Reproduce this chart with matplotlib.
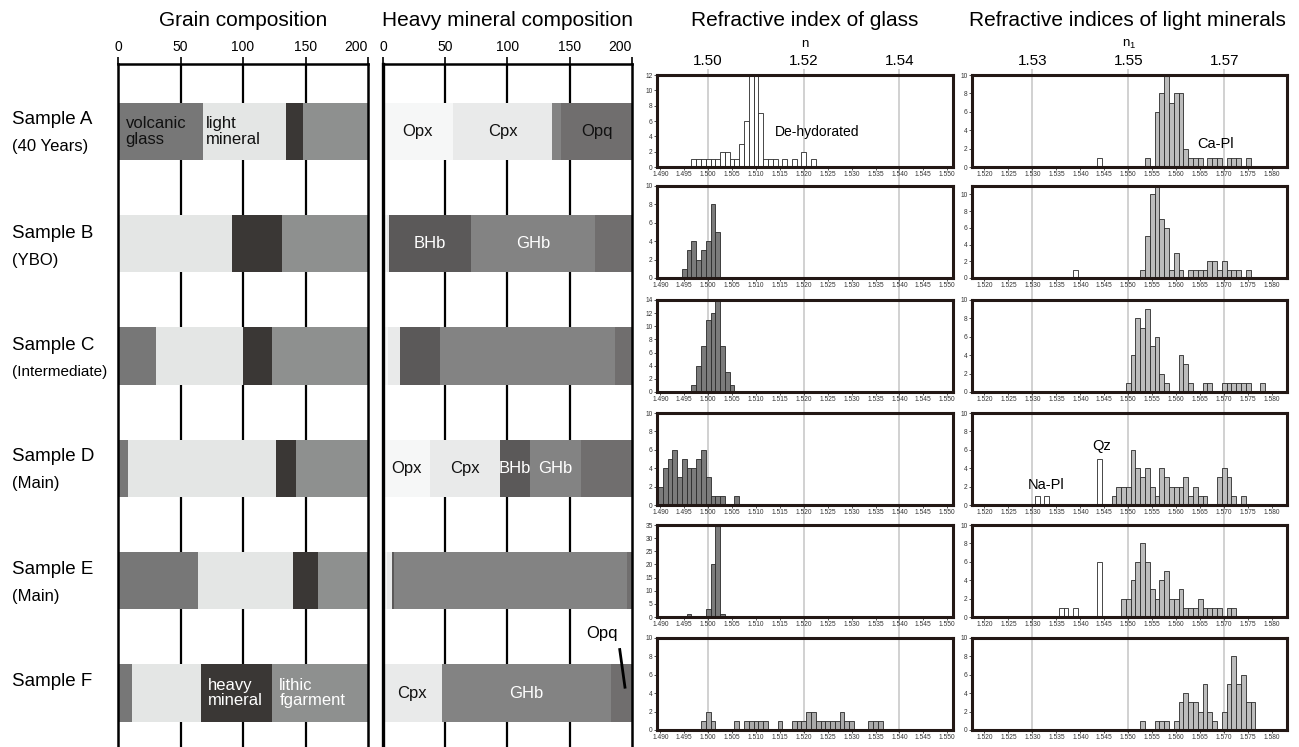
import numpy as np
import matplotlib.pyplot as plt

plt.rcParams['font.family'] = ['Liberation Sans', 'DejaVu Sans']

W, H = 1299, 747

# ---------------- data ----------------
samples = ['Sample A', 'Sample B', 'Sample C', 'Sample D', 'Sample E', 'Sample F']
notes = ['(40 Years)', '(YBO)', '(Intermediate)', '(Main)', '(Main)', '']

# grain composition (grains counted, 200 per sample)
grain_glass = [68, 0, 30, 8, 64, 11]
grain_light = [66, 91, 70, 118, 76, 55]
grain_heavy = [14, 40, 23, 16, 20, 57]
grain_lithic = [52, 69, 77, 58, 40, 77]

# heavy mineral composition
heavy_opx = [56, 3, 4, 38, 3, 0]
heavy_cpx = [80, 2, 10, 56, 4, 47]
heavy_bhb = [0, 66, 32, 24, 2, 0]
heavy_ghb = [7, 99, 140, 41, 187, 136]
heavy_opq = [57, 30, 14, 41, 4, 17]

# refractive index of glass: first bin (n) and counts per 0.001 bin
glass_start = [1.497, 1.495, 1.497, 1.490, 1.496, 1.499]
glass_A = [1, 1, 1, 1, 1, 1, 2, 2, 1, 1, 3, 6, 12, 12, 7, 1, 1, 1, 0, 1, 0, 1, 0, 2, 0, 1]
glass_B = [1, 3, 4, 2, 3, 4, 8, 5]
glass_C = [1, 4, 7, 11, 12, 14, 7, 3, 1]
glass_D = [2, 4, 5, 6, 3, 5, 4, 4, 5, 6, 3, 1, 1, 1, 0, 0, 1]
glass_E = [1, 0, 0, 0, 3, 20, 35, 1]
glass_F = [1, 2, 1, 0, 0, 0, 0, 1, 0, 1, 1, 1, 1, 1, 0, 0, 1, 0, 0, 1, 1, 1, 2, 2, 1,
           1, 1, 1, 1, 2, 1, 1, 0, 0, 0, 1, 1, 1]
glass_ymax = [12, 10, 14, 10, 35, 10]
glass_ystep = [2, 2, 2, 2, 5, 2]

# refractive indices of light minerals (plagioclase, grey bars)
min_start = [1.554, 1.553, 1.550, 1.547, 1.549, 1.553]
min_A = [1, 0, 6, 8, 10, 7, 8, 8, 2, 1, 1, 1, 0, 1, 1, 1, 0, 1, 1, 1, 0, 1]
min_B = [1, 5, 10, 11, 7, 6, 1, 3, 1, 0, 1, 1, 1, 1, 2, 2, 1, 2, 1, 1, 1, 0, 1]
min_C = [1, 4, 8, 7, 9, 5, 6, 2, 1, 0, 0, 4, 3, 1, 0, 0, 1, 1, 0, 0, 1, 1, 1, 1, 1, 1, 0, 0, 1]
min_D = [1, 2, 2, 2, 6, 4, 3, 4, 2, 1, 4, 3, 2, 2, 2, 3, 1, 2, 1, 1, 0, 0, 3, 4, 3, 1, 0, 1]
min_E = [2, 2, 4, 6, 8, 6, 3, 2, 4, 5, 2, 2, 3, 1, 1, 1, 2, 1, 1, 1, 1, 0, 1, 1]
min_F = [1, 0, 0, 1, 1, 1, 0, 1, 3, 4, 3, 3, 2, 5, 2, 1, 0, 2, 5, 8, 5, 6, 3, 3]
min_ymax = [10, 11, 10, 10, 10, 10]
# white bars (Na-Pl, Qz)
white_x = [[1.544], [1.539], [], [1.531, 1.533, 1.544], [1.536, 1.537, 1.539, 1.544], []]
white_n = [[1], [1], [], [1, 1, 5], [1, 1, 1, 6], []]

glass_counts = [glass_A, glass_B, glass_C, glass_D, glass_E, glass_F]
min_counts = [min_A, min_B, min_C, min_D, min_E, min_F]

# ---------------- figure ----------------
fig = plt.figure(figsize=(W / 100, H / 100), dpi=100)


def px(x0, y0, x1, y1):
    return [x0 / W, 1 - y1 / H, (x1 - x0) / W, (y1 - y0) / H]


FRAME = '#231815'
ypos = np.arange(6)


def bar_panel(x0, x1, segs, colors):
    ax = fig.add_axes(px(x0, 64, x1, H))
    ax.vlines([50, 100, 150], -1, 6, color='k', lw=1.6, zorder=0)
    left = np.zeros(6)
    for vals, c in zip(segs, colors):
        ax.barh(ypos, vals, left=left, height=0.51, color=c, lw=0, zorder=2)
        left = left + np.array(vals)
    ax.set_xlim(0, 200)
    ax.set_ylim(5.48, -0.6)
    ax.xaxis.tick_top()
    ax.set_xticks([0, 50, 100, 150, 200])
    ax.set_yticks([])
    ax.spines['bottom'].set_visible(False)
    for s in ['left', 'right', 'top']:
        ax.spines[s].set_linewidth(1.8)
    ax.tick_params(axis='x', length=5, width=1.2, labelsize=10, pad=2)
    ax.get_xticklabels()[-1].set_horizontalalignment('right')
    return ax


def seg_label(ax, segs, row, k, text, color, ha='center', dx=0):
    start = sum(s[row] for s in segs[:k])
    x = start + segs[k][row] / 2 if ha == 'center' else start + dx
    ax.text(x, row, text, ha=ha, va='center', fontsize=12, color=color,
            linespacing=1.05, zorder=3)


# grain composition
grain_segs = [grain_glass, grain_light, grain_heavy, grain_lithic]
axg = bar_panel(118, 368, grain_segs, ['#777777', '#e4e6e5', '#3a3735', '#8e908f'])
seg_label(axg, grain_segs, 0, 0, 'volcanic\nglass', '#111111', ha='left', dx=6)
seg_label(axg, grain_segs, 0, 1, 'light\nmineral', '#111111', ha='left', dx=2)
seg_label(axg, grain_segs, 5, 2, 'heavy\nmineral', 'white', ha='left', dx=6)
seg_label(axg, grain_segs, 5, 3, 'lithic\nfgarment', 'white', ha='left', dx=6)

# heavy mineral composition
heavy_segs = [heavy_opx, heavy_cpx, heavy_bhb, heavy_ghb, heavy_opq]
axh = bar_panel(383, 632, heavy_segs, ['#f6f7f7', '#e9eaea', '#5b5959', '#838383', '#706e6e'])
axh.spines['left'].set_linewidth(2.4)
seg_label(axh, heavy_segs, 0, 0, 'Opx', '#111111')
seg_label(axh, heavy_segs, 0, 1, 'Cpx', '#111111')
seg_label(axh, heavy_segs, 0, 4, 'Opq', '#111111')
seg_label(axh, heavy_segs, 1, 2, 'BHb', 'white')
seg_label(axh, heavy_segs, 1, 3, 'GHb', 'white')
seg_label(axh, heavy_segs, 3, 0, 'Opx', '#111111')
seg_label(axh, heavy_segs, 3, 1, 'Cpx', '#111111')
seg_label(axh, heavy_segs, 3, 2, 'BHb', 'white')
seg_label(axh, heavy_segs, 3, 3, 'GHb', 'white')
seg_label(axh, heavy_segs, 5, 1, 'Cpx', '#111111')
seg_label(axh, heavy_segs, 5, 3, 'GHb', 'white')
axh.text(176, 4.47, 'Opq', fontsize=12, ha='center', va='center')
axh.plot([190, 194.5], [4.6, 4.96], color='k', lw=2, solid_capstyle='butt', zorder=4)

# sample labels
row_y = [131, 244, 356, 468, 581, 693]
for i in range(6):
    fig.text(12 / W, 1 - (row_y[i] - 11) / H, samples[i], fontsize=13.5, va='center')
    if notes[i]:
        fs = 11 if notes[i] == '(Intermediate)' else 12
        fig.text(12 / W, 1 - (row_y[i] + 16) / H, notes[i], fontsize=fs, va='center')

# titles
for x, t in [(243, 'Grain composition'), (507, 'Heavy mineral composition'),
             (805, 'Refractive index of glass'), (1127, 'Refractive indices of light minerals')]:
    fig.text(x / W, 1 - 21 / H, t, fontsize=15, ha='center', va='center')

# histogram columns
glass_xlim = (1.4893, 1.5512)
min_xlim = (1.5174, 1.5831)
cols = [(657, 953, glass_xlim, [1.50, 1.52, 1.54], 'n',
         np.arange(1.490, 1.5501, 0.005)),
        (972, 1287, min_xlim, [1.53, 1.55, 1.57], '$\\mathregular{n_1}$',
         np.arange(1.520, 1.5801, 0.005))]

for x0, x1, xl, majors, lab, ticks in cols:
    bg = fig.add_axes(px(x0, 69, x1, 733))
    bg.set_xlim(xl)
    bg.vlines(majors, 0, 1, color='#c9c9c9', lw=1.2)
    bg.set_ylim(0, 1)
    for s in bg.spines.values():
        s.set_visible(False)
    bg.set_yticks([])
    bg.xaxis.tick_top()
    bg.set_xticks(majors)
    bg.set_xticklabels(['%.2f' % m for m in majors])
    bg.tick_params(axis='x', length=0, labelsize=11, pad=1)
    bg.xaxis.set_label_position('top')
    bg.set_xlabel(lab, fontsize=9.5, labelpad=5)
    bg.patch.set_alpha(0)

tops = [75, 186, 300, 413, 525, 638]
for i in range(6):
    t = tops[i]
    # glass
    ax = fig.add_axes(px(657, t, 953, t + 92))
    ax.set_facecolor('none')
    cnt = glass_counts[i]
    xs = np.round(glass_start[i] + 0.001 * np.arange(len(cnt)), 3)
    gcol = 'white' if i == 0 else ('#aaaaaa' if i == 5 else '#7b7b7b')
    ax.bar(xs, cnt, width=0.001, color=gcol, edgecolor='#2a2a2a', lw=0.6)
    ax.set_xlim(glass_xlim)
    ax.set_ylim(0, glass_ymax[i])
    ax.set_yticks(np.arange(0, glass_ymax[i] + 1, glass_ystep[i]))
    ax.set_xticks(cols[0][5])
    ax.set_xticklabels(['%.3f' % v for v in cols[0][5]])
    # minerals
    am = fig.add_axes(px(972, t, 1287, t + 92))
    am.set_facecolor('none')
    cnt = min_counts[i]
    xs = np.round(min_start[i] + 0.001 * np.arange(len(cnt)), 3)
    am.bar(xs, cnt, width=0.001, color='#bcbcbc', edgecolor='#2a2a2a', lw=0.6)
    if white_x[i]:
        am.bar(white_x[i], white_n[i], width=0.001, color='white', edgecolor='#2a2a2a', lw=0.6)
    am.set_xlim(min_xlim)
    am.set_ylim(0, min_ymax[i])
    am.set_yticks(np.arange(0, 11, 2))
    am.set_xticks(cols[1][5])
    am.set_xticklabels(['%.3f' % v for v in cols[1][5]])
    for a in (ax, am):
        for s in a.spines.values():
            s.set_linewidth(2.2)
            s.set_color(FRAME)
        a.tick_params(length=2, width=0.6, labelsize=4.8, pad=1, colors='#333333')
    if i == 0:
        ax.text(1.5139, 4.6, 'De-hydorated', fontsize=10, va='center')
        am.text(1.5644, 2.55, 'Ca-Pl', fontsize=10.5, va='center')
    if i == 3:
        am.text(1.5290, 2.2, 'Na-Pl', fontsize=10.5, va='center')
        am.text(1.5445, 6.45, 'Qz', fontsize=10.5, va='center', ha='center')

fig.savefig('out.png', dpi=100)
